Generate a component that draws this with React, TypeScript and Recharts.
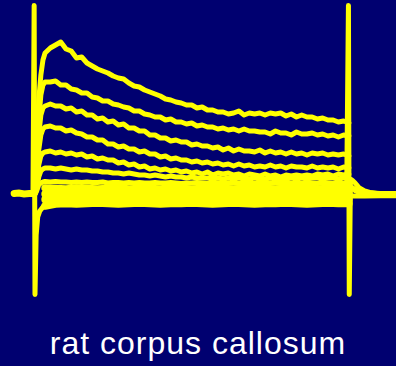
import React from "react";
import { LineChart, Line, XAxis, YAxis } from "recharts";

// time in ms, current in pA
const time = [
  0, 2, 4, 6, 8, 10, 15, 20, 25, 30, 35, 40, 45, 50, 55, 60, 65, 70, 75, 80, 85, 90, 95, 100,
  105, 110, 115, 120, 125, 130, 135, 140, 145, 150, 155, 160, 165, 170, 175, 180, 185, 190,
  195, 200, 205, 210, 215, 220, 225, 230, 235, 240, 245, 250, 255, 260, 265, 270, 275, 280,
  285, 290, 295, 300,
];

const trace1 = [
  0, 450, 950, 1200, 1350, 1420,
  1470, 1500, 1530, 1460, 1440, 1370, 1380, 1320, 1290, 1260,
  1240, 1220, 1190, 1170, 1160, 1120, 1090, 1080, 1050, 1030,
  1010, 990, 960, 950, 930, 920, 900, 900, 870, 880,
  850, 850, 830, 830, 810, 820, 840, 800, 820, 810,
  820, 800, 820, 810, 820, 790, 810, 780, 800, 780,
  780, 760, 770, 750, 750, 730, 740, 720,
];
const trace2 = [
  0, 350, 750, 1000, 1100, 1130,
  1130, 1140, 1100, 1100, 1060, 1050, 1020, 1020, 980, 970,
  940, 940, 910, 900, 880, 870, 840, 840, 810, 800,
  780, 780, 750, 760, 730, 730, 710, 720, 690, 700,
  680, 680, 660, 670, 650, 660, 640, 660, 640, 640,
  630, 630, 610, 640, 620, 620, 600, 630, 610, 610,
  620, 600, 610, 590, 600, 580, 600, 590,
];
const trace3 = [
  0, 250, 600, 800, 870, 890,
  910, 890, 890, 860, 870, 830, 840, 800, 800, 760,
  770, 730, 740, 700, 710, 670, 670, 640, 640, 600,
  600, 570, 570, 540, 550, 530, 530, 500, 510, 490,
  490, 470, 480, 450, 470, 440, 460, 440, 440, 430,
  450, 420, 440, 420, 430, 410, 430, 410, 420, 400,
  420, 410, 420, 400, 410, 400, 410, 390,
];
const trace4 = [
  0, 150, 450, 600, 660, 680,
  690, 670, 670, 640, 650, 620, 610, 580, 580, 550,
  550, 510, 510, 480, 490, 460, 460, 430, 440, 410,
  410, 380, 390, 360, 370, 350, 350, 330, 340, 320,
  330, 310, 320, 300, 310, 290, 310, 290, 300, 280,
  290, 280, 300, 280, 290, 270, 290, 280, 280, 270,
  290, 270, 280, 270, 280, 260, 280, 270,
];
const trace5 = [
  0, 100, 300, 390, 420, 430,
  440, 420, 430, 410, 420, 400, 410, 380, 390, 360,
  370, 350, 350, 320, 330, 300, 310, 280, 290, 260,
  270, 250, 260, 240, 250, 230, 240, 220, 230, 210,
  230, 200, 220, 210, 220, 200, 210, 190, 210, 200,
  190, 210, 190, 200, 180, 200, 190, 200, 190, 200,
  190, 210, 200, 210, 190, 210, 200, 210,
];
const trace6 = [
  0, 60, 180, 240, 260, 270,
  270, 260, 270, 260, 250, 260, 250, 250, 240, 240,
  230, 230, 220, 220, 210, 220, 210, 200, 200, 190,
  200, 190, 180, 190, 180, 180, 170, 180, 170, 170,
  170, 160, 170, 160, 170, 160, 170, 160, 160, 170,
  160, 160, 170, 160, 160, 160, 170, 160, 170, 160,
  170, 170, 160, 170, 170, 160, 170, 170,
];
const trace7 = [
  0, 40, 100, 120, 130, 135,
  130, 135, 130, 130, 125, 130, 125, 130, 125, 125,
  130, 120, 125, 125, 120, 125, 120, 125, 120, 120,
  125, 120, 120, 125, 120, 115, 120, 120, 125, 120,
  115, 120, 120, 115, 120, 120, 115, 120, 120, 115,
  120, 115, 120, 120, 115, 120, 115, 120, 115, 120,
  120, 115, 120, 120, 115, 120, 115, 120,
];

// the crowded small-current sweeps near zero
const bandTime = [
  10, 20, 30, 40, 50, 60, 70, 80, 90, 100, 110, 120, 130, 140, 150,
  160, 170, 180, 190, 200, 210, 220, 230, 240, 250, 260, 270, 280, 290, 300,
];
const bandA = [70, 65, 60, 70, 65, 60, 65, 70, 60, 65, 65, 60, 70, 65, 60, 65, 70, 65, 60, 65, 70, 65, 60, 65, 65, 70, 60, 65, 70, 65];
const bandB = [10, 15, 5, 10, 15, 10, 5, 10, 15, 10, 5, 10, 10, 15, 5, 10, 10, 5, 15, 10, 10, 5, 10, 15, 10, 5, 10, 15, 10, 10];
const bandC = [-45, -40, -50, -45, -40, -45, -50, -45, -40, -45, -50, -45, -45, -40, -50, -45, -40, -45, -50, -45, -45, -40, -45, -50, -45, -40, -45, -50, -45, -45];
const bandD = [-110, -90, -85, -90, -85, -80, -85, -90, -85, -80, -85, -90, -85, -85, -80, -85, -90, -85, -80, -85, -90, -85, -85, -80, -85, -90, -85, -80, -85, -85];

// holding current before the step
const preTime = [-19.5, -15, -10, -5, -1.5];
const pre = [15, 20, 10, 15, 15];

// capacitive transients at step on / off
const onTime = [-1.5, -0.4, 0.4, 1.5, 3, 5, 8, 10];
const onCurrent = [15, 1895, -995, -400, -220, -160, -120, -110];
const offTime = [298, 299.6, 300.4, 301.5, 303, 306, 310, 315, 320, 330, 345];
const offCurrent = [100, 1895, -995, 160, 150, 120, 70, 40, 25, 10, 5];

// tail after the step
const tailTime = [301, 303, 306, 310, 315, 330, 345];
const tailMid = [80, 70, 50, 30, 20, 10, 10];
const tailLow = [-10, -10, -10, -10, -10, -8, -8];

const YELLOW = "#ffff00";
const NAVY = "#000070";

const toPoints = (ts: number[], vs: number[], key: string) =>
  ts.map((t, i) => ({ t, [key]: vs[i] }));

const traces = [trace1, trace2, trace3, trace4, trace5, trace6, trace7];
const bands = [bandA, bandB, bandC, bandD];

export default function App() {
  return (
    <div
      style={{
        position: "fixed",
        left: 0,
        top: 0,
        width: 396,
        height: 366,
        background: NAVY,
        overflow: "hidden",
      }}
    >
      <LineChart width={396} height={366} margin={{ top: 0, right: 0, bottom: 0, left: 0 }}>
        <XAxis dataKey="t" type="number" domain={[-33, 345]} hide allowDataOverflow />
        <YAxis type="number" domain={[-1710, 1950]} hide allowDataOverflow />
        {bands.map((b, i) => (
          <Line
            key={"band" + i}
            data={toPoints(bandTime, b, "band" + i)}
            dataKey={"band" + i}
            stroke={YELLOW}
            strokeWidth={7.5}
            dot={false}
            activeDot={false}
            strokeLinejoin="round"
            strokeLinecap="round"
            isAnimationActive={false}
          />
        ))}
        {traces.map((tr, i) => (
          <Line
            key={"tr" + i}
            data={toPoints(time, tr, "tr" + i)}
            dataKey={"tr" + i}
            stroke={YELLOW}
            strokeWidth={5}
            dot={false}
            activeDot={false}
            strokeLinejoin="round"
            strokeLinecap="round"
            isAnimationActive={false}
          />
        ))}
        <Line
          data={toPoints(preTime, pre, "pre")}
          dataKey="pre"
          stroke={YELLOW}
          strokeWidth={7}
          dot={false}
          activeDot={false}
          strokeLinecap="round"
          isAnimationActive={false}
        />
        <Line
          data={toPoints(tailTime, tailMid, "tailMid")}
          dataKey="tailMid"
          stroke={YELLOW}
          strokeWidth={6}
          dot={false}
          activeDot={false}
          strokeLinejoin="round"
          isAnimationActive={false}
        />
        <Line
          data={toPoints(tailTime, tailLow, "tailLow")}
          dataKey="tailLow"
          stroke={YELLOW}
          strokeWidth={5}
          dot={false}
          activeDot={false}
          isAnimationActive={false}
        />
        <Line
          data={toPoints(onTime, onCurrent, "on")}
          dataKey="on"
          stroke={YELLOW}
          strokeWidth={5}
          dot={false}
          activeDot={false}
          strokeLinejoin="round"
          strokeLinecap="round"
          isAnimationActive={false}
        />
        <Line
          data={toPoints(offTime, offCurrent, "off")}
          dataKey="off"
          stroke={YELLOW}
          strokeWidth={5}
          dot={false}
          activeDot={false}
          strokeLinejoin="round"
          strokeLinecap="round"
          isAnimationActive={false}
        />
      </LineChart>
      <svg width={396} height={366} style={{ position: "absolute", left: 0, top: 0 }}>
        <text
          x={198}
          y={354}
          textAnchor="middle"
          fill="#ffffff"
          fontSize={32}
          letterSpacing={1}
          fontFamily="'Liberation Sans', Arial, sans-serif"
        >
          rat corpus callosum
        </text>
      </svg>
    </div>
  );
}
